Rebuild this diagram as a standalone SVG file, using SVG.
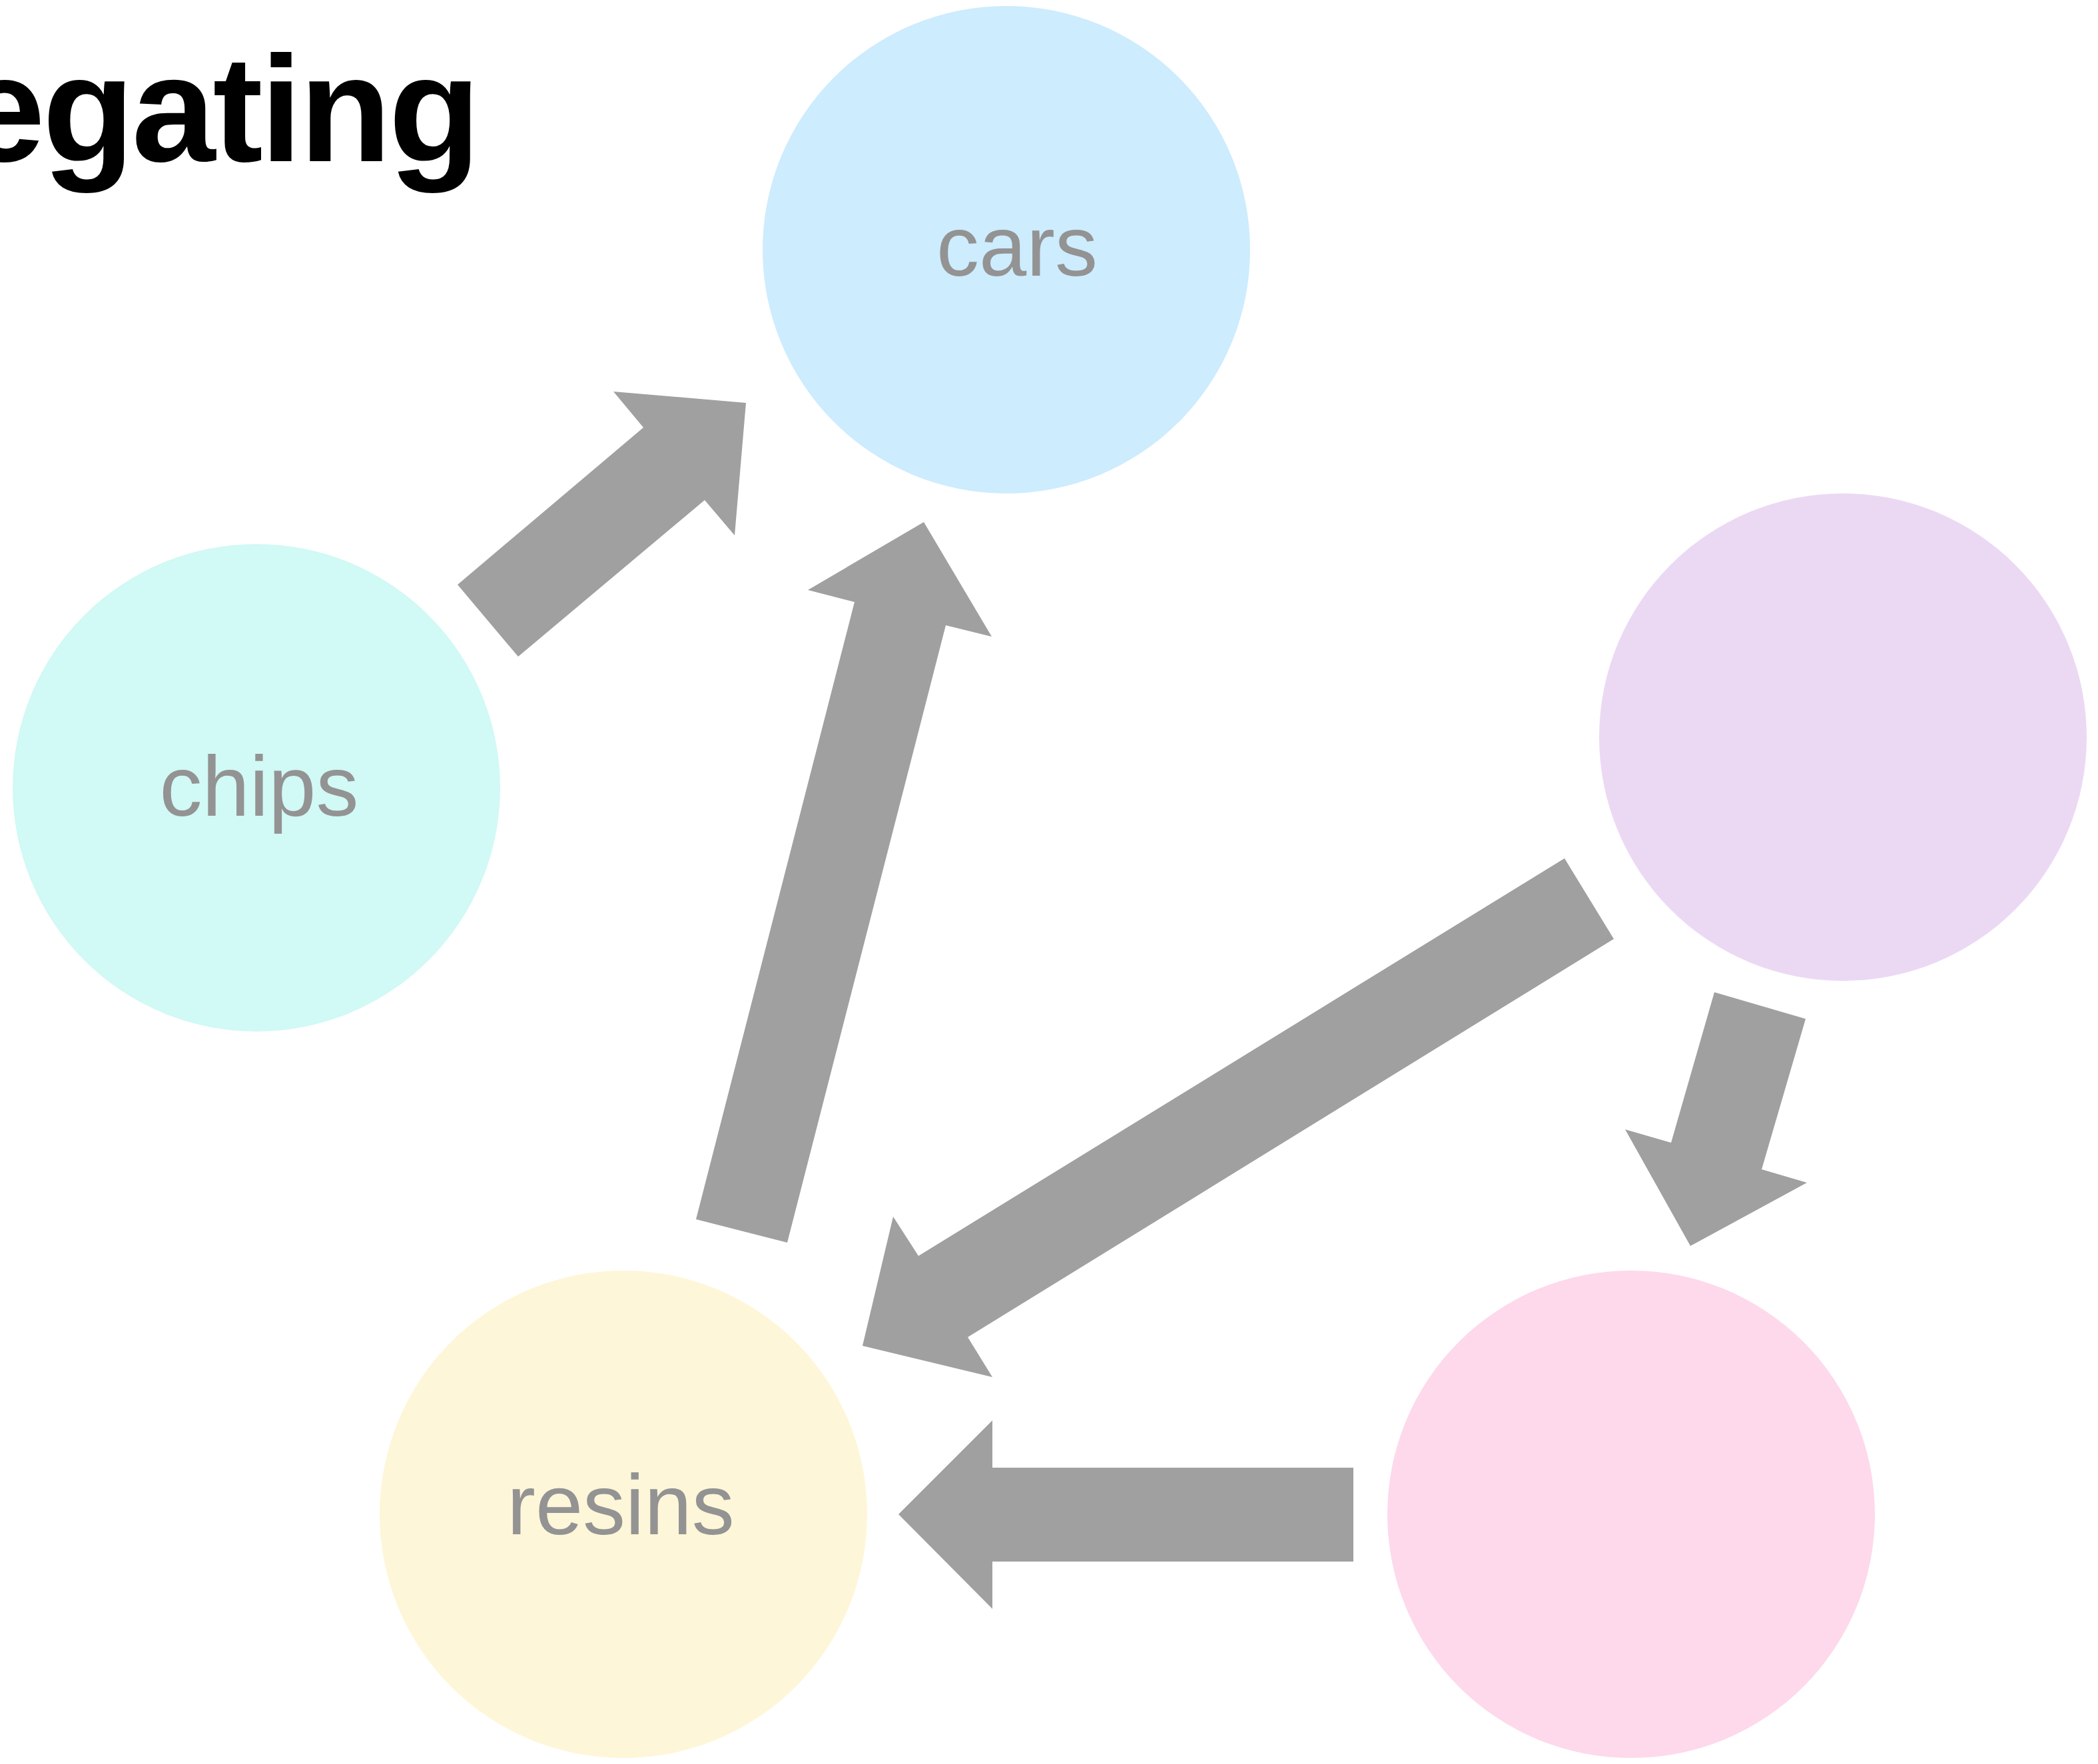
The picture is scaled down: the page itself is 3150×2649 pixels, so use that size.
<svg xmlns="http://www.w3.org/2000/svg" width="3150" height="2649" viewBox="0 0 3150 2649">
  <style>
    .title { font-family: "Liberation Sans", Arial, sans-serif; font-weight: bold; font-size: 226px; fill: #000000; letter-spacing: -4px; }
    .label { font-family: "Liberation Sans", Arial, sans-serif; font-size: 128px; fill: #939393; text-anchor: middle; }
    .arrow { fill: #a0a0a0; stroke: none; }
  </style>
  <rect width="3150" height="2649" fill="#ffffff"/>

  <text class="title" x="-58" y="242">egating</text>

  <g id="connectors">
    <!-- chips to cars -->
    <polygon class="arrow" points="687,878 966,642 921,588 1120,605 1103,804 1058,751 778,986"/>
    <!-- resins to cars -->
    <polygon class="arrow" points="1045,1831 1283,904 1213,886 1387,784 1489,956 1420,939 1182,1866"/>
    <!-- purple to resins -->
    <polygon class="arrow" points="2349,1289 1379,1886 1341,1827 1295,2021 1490,2068 1453,2008 2423,1410"/>
    <!-- purple to pink -->
    <polygon class="arrow" points="2574,1490 2509,1716 2440,1696 2538,1871 2713,1776 2645,1756 2711,1530"/>
    <!-- pink to resins -->
    <polygon class="arrow" points="2032,2204 1490,2204 1490,2133 1349,2274 1490,2416 1490,2345 2032,2345"/>
  </g>

  <g id="node-cars">
    <circle cx="1511" cy="375" r="366" fill="#cdecfe"/>
    <text class="label" x="1527" y="414">cars</text>
  </g>
  <g id="node-chips">
    <circle cx="385" cy="1183" r="366" fill="#d1f9f5"/>
    <text class="label" x="389" y="1225">chips</text>
  </g>
  <g id="node-purple">
    <circle cx="2767" cy="1107" r="366" fill="#ebd9f4"/>
  </g>
  <g id="node-resins">
    <circle cx="936" cy="2274" r="366" fill="#fef6d8"/>
    <text class="label" x="932" y="2304">resins</text>
  </g>
  <g id="node-pink">
    <circle cx="2449" cy="2274" r="366" fill="#fdd9eb"/>
  </g>
</svg>
